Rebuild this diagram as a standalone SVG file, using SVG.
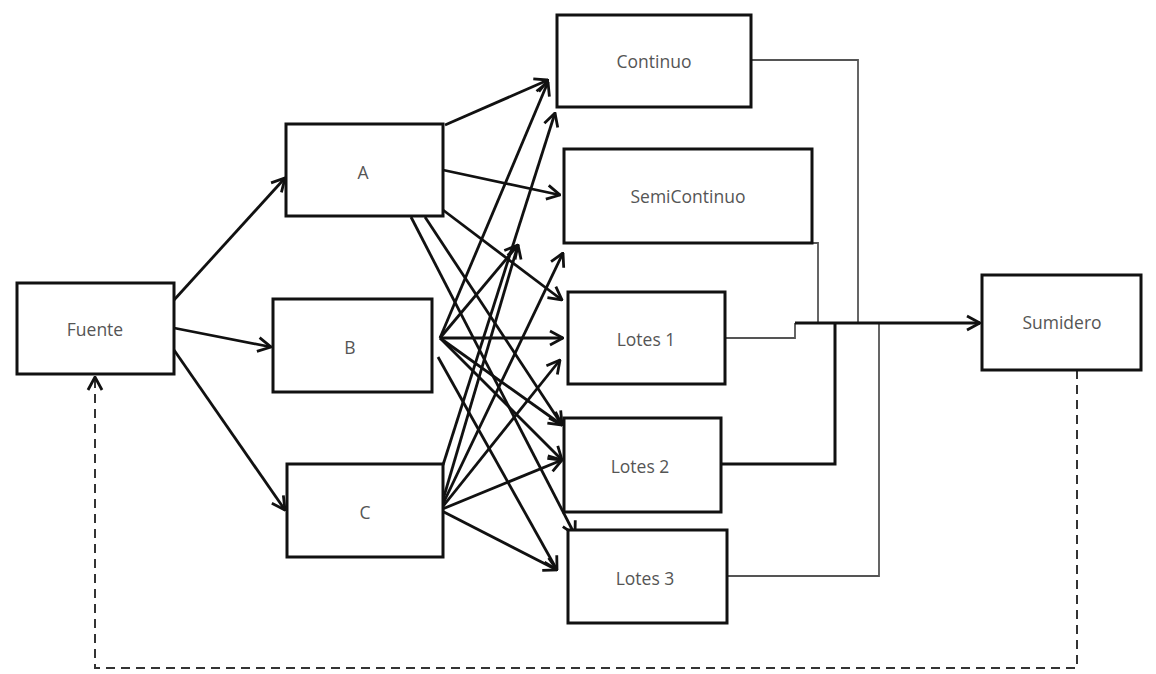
<svg xmlns="http://www.w3.org/2000/svg" width="1156" height="674" viewBox="0 0 1156 674">
<style>
.box{fill:#fff;stroke:#111;stroke-width:3}
.lbl{font-family:"Open Sans","Liberation Sans",sans-serif;font-size:17.5px;fill:#555;text-anchor:middle;dominant-baseline:central}
.e{fill:none;stroke:#111;stroke-width:2.8;marker-end:url(#arr)}
.thin{fill:none;stroke:#555;stroke-width:1.8}
.thick{fill:none;stroke:#111;stroke-width:3}
.dash{fill:none;stroke:#333;stroke-width:2;stroke-dasharray:9 6}
</style>
<defs>
<marker id="arr" viewBox="0 0 16 18" refX="15" refY="9" markerWidth="16" markerHeight="18" orient="auto" markerUnits="userSpaceOnUse">
<path d="M2,2 L15,9 L2,16" fill="none" stroke="#111" stroke-width="2.8"/>
</marker>
</defs>
<rect width="1156" height="674" fill="#fff"/>
<g id="connectors">
<path class="thin" d="M751,60 H858 V323"/>
<path class="thin" d="M812,243 H818 V323"/>
<path class="thin" d="M725,338 H795 V323"/>
<path class="thick" d="M721,464 H835 V323"/>
<path class="thin" d="M727,576 H879 V323"/>
<path class="e" d="M795,323 H980" stroke-width="3"/>
<path class="dash" d="M1077,370 V668 H95 V377" marker-end="url(#arr)"/>
<path class="e" d="M174,300 L285,178"/>
<path class="e" d="M174,328 L271,347"/>
<path class="e" d="M174,350 L285,510"/>
<path class="e" d="M445,125 L548,80"/>
<path class="e" d="M443,170 L560,195"/>
<path class="e" d="M443,210 L562,300"/>
<path class="e" d="M425,217 L562,425"/>
<path class="e" d="M411,217 L575,535"/>
<path class="e" d="M440,338 L548,82"/>
<path class="e" d="M440,338 L518,245"/>
<path class="e" d="M440,338 L563,338"/>
<path class="e" d="M440,338 L562,425"/>
<path class="e" d="M440,338 L562,460"/>
<path class="e" d="M438,357 L557,570"/>
<path class="e" d="M443,465 L555,113"/>
<path class="e" d="M440,510 L518,245"/>
<path class="e" d="M440,510 L563,253"/>
<path class="e" d="M440,510 L560,360"/>
<path class="e" d="M440,510 L562,460"/>
<path class="e" d="M440,510 L557,570"/>
</g>
<g id="fuente"><rect class="box" x="17" y="283" width="157" height="91"/><text class="lbl" x="95" y="329">Fuente</text></g>
<g id="a"><rect class="box" x="286" y="124" width="157" height="92"/><text class="lbl" x="363" y="172">A</text></g>
<g id="b"><rect class="box" x="273" y="299" width="159" height="93"/><text class="lbl" x="350" y="347">B</text></g>
<g id="c"><rect class="box" x="287" y="464" width="156" height="93"/><text class="lbl" x="365" y="512">C</text></g>
<g id="continuo"><rect class="box" x="557" y="15" width="194" height="92"/><text class="lbl" x="654" y="61">Continuo</text></g>
<g id="semicontinuo"><rect class="box" x="564" y="149" width="248" height="94"/><text class="lbl" x="688" y="196">SemiContinuo</text></g>
<g id="lotes1"><rect class="box" x="568" y="292" width="157" height="92"/><text class="lbl" x="646" y="339">Lotes 1</text></g>
<g id="lotes2"><rect class="box" x="564" y="418" width="157" height="94"/><text class="lbl" x="640" y="466">Lotes 2</text></g>
<g id="lotes3"><rect class="box" x="568" y="530" width="159" height="93"/><text class="lbl" x="645" y="578">Lotes 3</text></g>
<g id="sumidero"><rect class="box" x="982" y="275" width="159" height="95"/><text class="lbl" x="1062" y="322">Sumidero</text></g>
</svg>
